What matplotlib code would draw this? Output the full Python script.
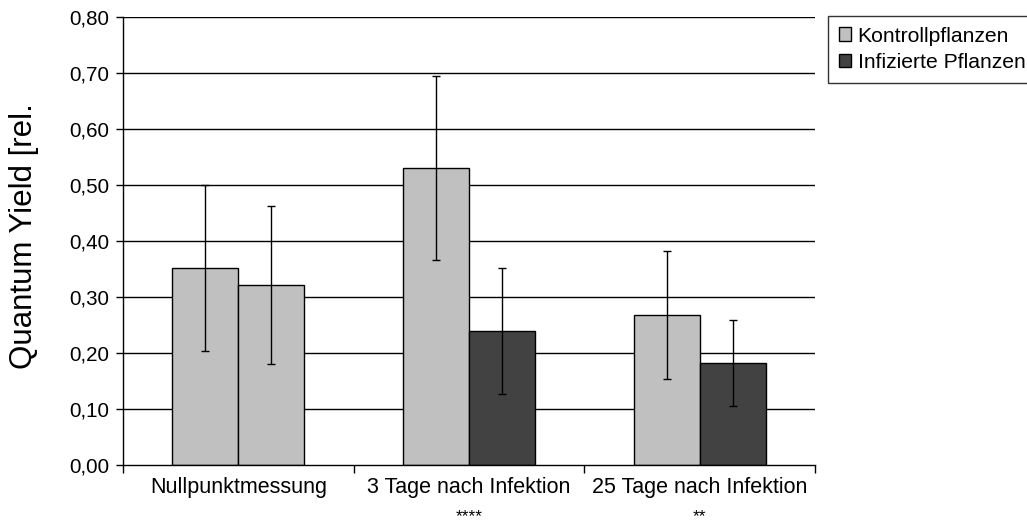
import numpy as np
import matplotlib.pyplot as plt
import matplotlib.transforms as mtransforms
from matplotlib.patches import Patch

plt.rcParams["font.family"] = ["Liberation Sans", "DejaVu Sans"]

# data
groups = ["Nullpunktmessung", "3 Tage nach Infektion", "25 Tage nach Infektion"]
signif = ["", "****", "**"]
kontroll = [0.352, 0.530, 0.268]
kontroll_err = [0.148, 0.164, 0.115]
infiziert = [0.322, 0.239, 0.182]
infiziert_err = [0.141, 0.112, 0.077]
# first group: both bars drawn light grey in the original
infiziert_colors = ["#c0c0c0", "#424242", "#424242"]
yticks = [0.0, 0.1, 0.2, 0.3, 0.4, 0.5, 0.6, 0.7, 0.8]

fig = plt.figure(figsize=(10.27, 5.24), dpi=100)
ax = fig.add_axes([123 / 1027, 1 - 465 / 524, (815 - 123) / 1027, (465 - 17) / 524])

x = np.arange(len(groups))
w = 0.286

for y in yticks[1:]:
    ax.axhline(y, color="black", lw=1.0, zorder=0)

ax.bar(x - w / 2, kontroll, w, color="#c0c0c0", edgecolor="black", lw=1.0, zorder=2)
ax.bar(x + w / 2, infiziert, w, color=infiziert_colors, edgecolor="black", lw=1.0, zorder=2)
ax.errorbar(x - w / 2, kontroll, yerr=kontroll_err, fmt="none", ecolor="black",
            elinewidth=1.0, capsize=3, capthick=1.0, zorder=3)
ax.errorbar(x + w / 2, infiziert, yerr=infiziert_err, fmt="none", ecolor="black",
            elinewidth=1.0, capsize=3, capthick=1.0, zorder=3)

ax.set_xlim(-0.5, 2.5)
ax.set_ylim(0, 0.8)
ax.set_yticks(yticks)
ax.set_yticklabels([f"{v:.2f}".replace(".", ",") for v in yticks], fontsize=14.8)
ax.tick_params(axis="y", direction="out", length=5, width=1, pad=5)

ax.set_xticks(x)
ax.set_xticklabels(groups, fontsize=15.5)
ax.set_xticks([-0.5, 0.5, 1.5, 2.5], minor=True)
ax.tick_params(axis="x", which="major", length=0, pad=8.5)
ax.tick_params(axis="x", which="minor", direction="out", length=6, width=1)

# significance stars under the category labels
trans = mtransforms.blended_transform_factory(ax.transData, fig.transFigure)
for xi, s in zip(x, signif):
    if s:
        ax.text(xi, 0.0, s, transform=trans, ha="center", va="bottom",
                fontsize=12.5, clip_on=False)

for s in ["top", "right"]:
    ax.spines[s].set_visible(False)
ax.spines["left"].set_linewidth(1.0)
ax.spines["bottom"].set_linewidth(1.0)

fig.text(24 / 1027, 1 - 236 / 524, "Quantum Yield [rel.", rotation=90,
         fontsize=22.5, ha="center", va="center")

handles = [Patch(facecolor="#c0c0c0", edgecolor="black", lw=1.0),
           Patch(facecolor="#424242", edgecolor="black", lw=1.0)]
leg = fig.legend(handles, ["Kontrollpflanzen", "Infizierte Pflanzen"],
                 loc="upper left", bbox_to_anchor=(828 / 1027, 1 - 16 / 524),
                 fontsize=15.2, frameon=True, fancybox=False, handlelength=0.6,
                 handleheight=0.6, handletextpad=0.3, borderpad=0.5,
                 labelspacing=0.35, borderaxespad=0)
leg.get_frame().set_edgecolor("black")
leg.get_frame().set_linewidth(1.0)

fig.savefig("out.png", dpi=100)
